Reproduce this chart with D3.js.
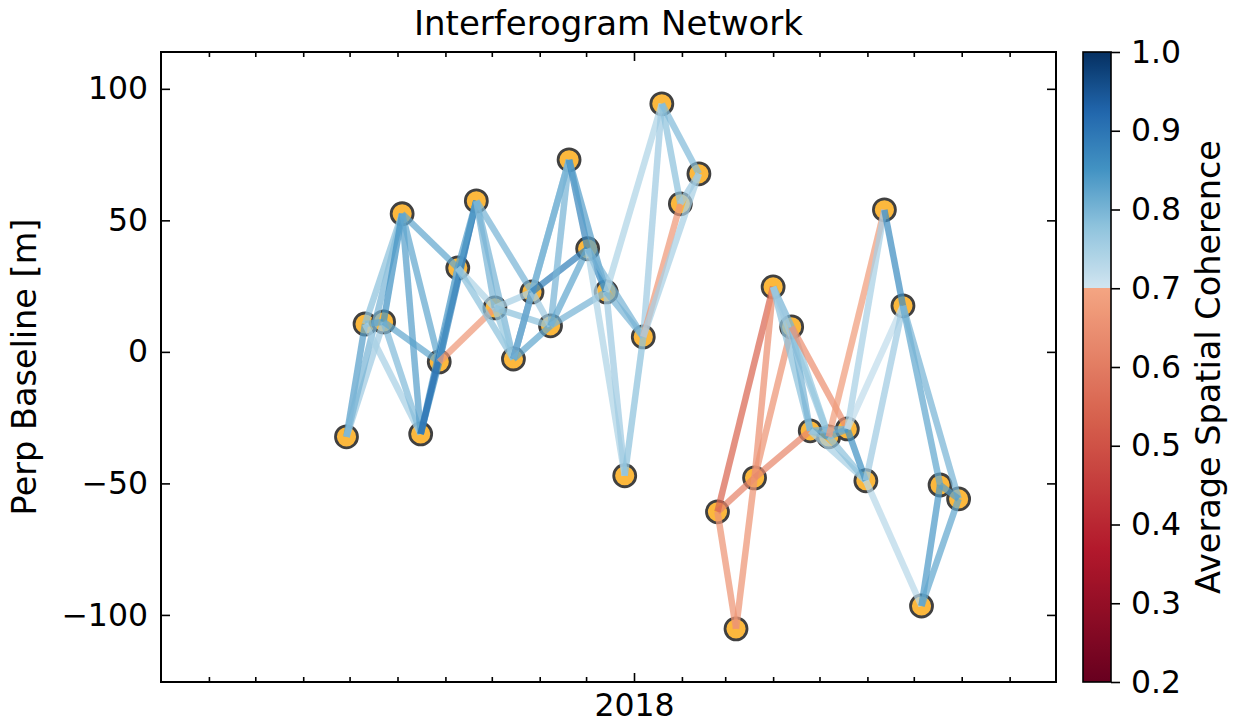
<!DOCTYPE html>
<html>
<head>
<meta charset="utf-8">
<script src="https://cdn.jsdelivr.net/npm/d3@7"></script>
<style>
  body { margin: 0; background: #fff; }
  text { font-family: "DejaVu Sans", sans-serif; fill: #000; }
</style>
</head>
<body>
<svg id="chart" width="1237" height="723"></svg>
<script>
// Acquisition dates (12-day revisit)
const dates = [
  "2017-06-29", "2017-07-11", "2017-07-23", "2017-08-04", "2017-08-16", "2017-08-28",
  "2017-09-09", "2017-09-21", "2017-10-03", "2017-10-15", "2017-10-27", "2017-11-08",
  "2017-11-20", "2017-12-02", "2017-12-14", "2017-12-26", "2018-01-07", "2018-01-19",
  "2018-01-31", "2018-02-12", "2018-02-24", "2018-03-08", "2018-03-20", "2018-04-01",
  "2018-04-13", "2018-04-25", "2018-05-07", "2018-05-19", "2018-05-31", "2018-06-12",
  "2018-06-24", "2018-07-06", "2018-07-18", "2018-07-30"
];

// Perpendicular baseline of each acquisition [m]
const perpBaseline = [
  -32.3, 10.6, 11.4, 52.5, -31.2, -3.8, 31.9, 57.4, 16.7, -2.7, 22.8, 9.9,
  73.0, 39.2, 22.8, -47.1, 5.7, 94.3, 56.3, 67.7, -60.8, -105.3, -47.9, 24.7,
  9.5, -30.0, -32.3, -29.3, -49.0, 54.0, 17.5, -96.6, -50.6, -55.9
];

// Interferogram pairs (indices into dates)
const pairs = [
  [0,1],[0,2],[0,3],[1,2],[1,3],[1,4],[2,3],[2,4],[2,5],[3,4],[3,5],[3,6],
  [4,5],[4,6],[4,7],[5,6],[5,7],[5,8],[6,7],[6,8],[6,9],[7,8],[7,9],[7,10],
  [8,9],[8,10],[8,11],[9,10],[9,11],[9,12],[10,11],[10,12],[10,13],[11,12],[11,13],[11,14],
  [12,13],[12,14],[13,14],[13,15],[13,16],[14,15],[14,16],[14,17],[15,16],
  [16,17],[16,18],[16,19],[17,18],[17,19],[18,19],
  [20,21],[20,22],[20,23],[21,22],[22,23],[22,24],[22,25],
  [23,24],[23,25],[23,26],[24,25],[24,26],[24,27],[25,26],[25,27],[25,28],
  [26,27],[26,28],[26,29],[27,28],[27,29],[27,30],[28,30],[28,31],
  [29,30],[30,32],[30,33],[31,32],[31,33],[32,33]
];

// Average spatial coherence of each pair
const coherence = [
  0.83, 0.76, 0.80, 0.82, 0.78, 0.75, 0.85, 0.79, 0.82, 0.83, 0.82, 0.82,
  0.85, 0.84, 0.91, 0.80, 0.87, 0.67, 0.83, 0.74, 0.78, 0.80, 0.80, 0.80,
  0.77, 0.75, 0.78, 0.90, 0.82, 0.80, 0.76, 0.80, 0.88, 0.80, 0.82, 0.80,
  0.87, 0.83, 0.86, 0.74, 0.80, 0.76, 0.80, 0.74, 0.78,
  0.76, 0.67, 0.75, 0.78, 0.79, 0.76,
  0.66, 0.62, 0.55, 0.66, 0.65, 0.66, 0.63,
  0.80, 0.78, 0.76, 0.80, 0.77, 0.65, 0.85, 0.80, 0.75,
  0.82, 0.78, 0.68, 0.85, 0.75, 0.72, 0.76, 0.73,
  0.86, 0.82, 0.80, 0.84, 0.82, 0.83
];

const yTicks = [-100, -50, 0, 50, 100];
const cbarTicks = [0.2, 0.3, 0.4, 0.5, 0.6, 0.7, 0.8, 0.9, 1.0];
const cbarRange = [0.2, 1.0];
const cohSplit = 0.7;

const svg = d3.select("#chart");
const plot = { left: 161, right: 1056, top: 52, bottom: 682 };
const parse = d3.utcParse("%Y-%m-%d");
const dateObjs = dates.map(parse);

const x = d3.scaleUtc()
  .domain([parse("2017-03-01"), parse("2018-10-01")])
  .range([plot.left, plot.right]);
const y = d3.scaleLinear().domain([-125.5, 114]).range([plot.bottom, plot.top]);

// RdBu split colormap: reds below the threshold, blues above
const rdbu = d3.scaleLinear()
  .domain(d3.range(11).map(i => i / 10))
  .range(d3.schemeRdBu[11]);
function cohColor(v) {
  const t = v < cohSplit
    ? (v - cbarRange[0]) / (cohSplit - cbarRange[0]) * 0.3
    : 0.6 + (v - cohSplit) / (cbarRange[1] - cohSplit) * 0.4;
  return rdbu(Math.max(0, Math.min(1, t)));
}

// Acquisitions
svg.append("g").selectAll("circle")
  .data(dateObjs.map((d, i) => ({ d, b: perpBaseline[i] })))
  .join("circle")
  .attr("cx", p => x(p.d))
  .attr("cy", p => y(p.b))
  .attr("r", 11)
  .attr("fill", "#fcb83d")
  .attr("stroke", "#404040")
  .attr("stroke-width", 2.8);

// Interferograms
svg.append("g").selectAll("line")
  .data(pairs.map((p, k) => ({ p, c: coherence[k] })))
  .join("line")
  .attr("x1", e => x(dateObjs[e.p[0]]))
  .attr("y1", e => y(perpBaseline[e.p[0]]))
  .attr("x2", e => x(dateObjs[e.p[1]]))
  .attr("y2", e => y(perpBaseline[e.p[1]]))
  .attr("stroke", e => cohColor(e.c))
  .attr("stroke-width", 6.5)
  .attr("stroke-opacity", 0.72);

// Axes (ticks pointing inward on all four sides)
const fs = 31.5;
function styleAxis(g) {
  g.select(".domain").remove();
  g.selectAll(".tick line").attr("stroke", "#000").attr("stroke-width", 1.6);
  g.selectAll(".tick text").attr("font-size", fs).attr("font-family", "DejaVu Sans").attr("fill", "#000");
}
const years = d3.utcYear.range(x.domain()[0], x.domain()[1]).filter(d => d > x.domain()[0]);
const months = d3.utcMonth.range(x.domain()[0], x.domain()[1]).filter(d => d > x.domain()[0] && d.getUTCMonth() !== 0);

svg.append("g").attr("transform", `translate(0,${plot.bottom})`)
  .call(d3.axisBottom(x).tickValues(months).tickSize(-5).tickFormat(""))
  .call(styleAxis);
svg.append("g").attr("transform", `translate(0,${plot.bottom})`)
  .call(d3.axisBottom(x).tickValues(years).tickSize(-9).tickPadding(12).tickFormat(d3.utcFormat("%Y")))
  .call(styleAxis);
svg.append("g").attr("transform", `translate(0,${plot.top})`)
  .call(d3.axisTop(x).tickValues(months).tickSize(-5).tickFormat(""))
  .call(styleAxis);
svg.append("g").attr("transform", `translate(0,${plot.top})`)
  .call(d3.axisTop(x).tickValues(years).tickSize(-9).tickFormat(""))
  .call(styleAxis);
svg.append("g").attr("transform", `translate(${plot.left},0)`)
  .call(d3.axisLeft(y).tickValues(yTicks).tickSize(-9).tickPadding(13)
    .tickFormat(d => d3.format("d")(d).replace("-", "\u2212")))
  .call(styleAxis);
svg.append("g").attr("transform", `translate(${plot.right},0)`)
  .call(d3.axisRight(y).tickValues(yTicks).tickSize(-9).tickFormat(""))
  .call(styleAxis);

svg.append("rect")
  .attr("x", plot.left).attr("y", plot.top)
  .attr("width", plot.right - plot.left).attr("height", plot.bottom - plot.top)
  .attr("fill", "none").attr("stroke", "#000").attr("stroke-width", 2);

// Labels
svg.append("text").attr("x", (plot.left + plot.right) / 2).attr("y", 35)
  .attr("text-anchor", "middle").attr("font-size", 34)
  .text("Interferogram Network");
svg.append("text")
  .attr("transform", `translate(36,${(plot.top + plot.bottom) / 2}) rotate(-90)`)
  .attr("text-anchor", "middle").attr("font-size", 33.5)
  .text("Perp Baseline [m]");

// Colorbar
const cb = { x: 1083, w: 28 };
const cbY = d3.scaleLinear().domain(cbarRange).range([plot.bottom, plot.top]);
const grad = svg.append("defs").append("linearGradient")
  .attr("id", "cohGrad").attr("x1", 0).attr("y1", 1).attr("x2", 0).attr("y2", 0);
const stops = [];
d3.range(0, 51).forEach(i => {
  const v = cbarRange[0] + (cohSplit - cbarRange[0]) * i / 50;
  stops.push({ o: (v - cbarRange[0]) / (cbarRange[1] - cbarRange[0]), c: cohColor(i === 50 ? cohSplit - 1e-6 : v) });
});
d3.range(0, 31).forEach(i => {
  const v = cohSplit + (cbarRange[1] - cohSplit) * i / 30;
  stops.push({ o: (v - cbarRange[0]) / (cbarRange[1] - cbarRange[0]), c: cohColor(v) });
});
grad.selectAll("stop").data(stops).join("stop")
  .attr("offset", s => s.o).attr("stop-color", s => s.c);
svg.append("rect")
  .attr("x", cb.x).attr("y", plot.top).attr("width", cb.w).attr("height", plot.bottom - plot.top)
  .attr("fill", "url(#cohGrad)").attr("stroke", "#000").attr("stroke-width", 1.6);
svg.append("g").attr("transform", `translate(${cb.x + cb.w},0)`)
  .call(d3.axisRight(cbY).tickValues(cbarTicks).tickSize(9).tickPadding(11).tickFormat(d3.format(".1f")))
  .call(styleAxis);
svg.append("text")
  .attr("transform", `translate(1220,${(plot.top + plot.bottom) / 2}) rotate(-90)`)
  .attr("text-anchor", "middle").attr("font-size", 33.5)
  .text("Average Spatial Coherence");
</script>
</body>
</html>
